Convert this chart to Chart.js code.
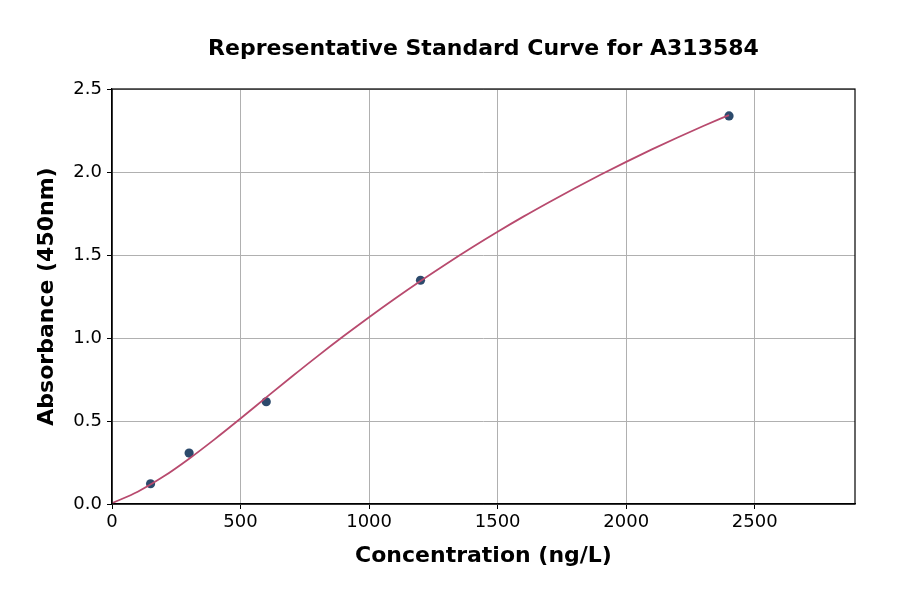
<!DOCTYPE html>
<html>
<head>
<meta charset="utf-8">
<title>Representative Standard Curve for A313584</title>
<script src="https://cdn.jsdelivr.net/npm/chart.js@4"></script>
<style>
    body { margin: 0; background: #fff; }
    canvas { display: block; }
</style>
</head>
<body>
<canvas id="curveChart" width="900" height="594"></canvas>
<script>
// Standard points (ng/L vs OD at 450nm)
const standardConc = [150, 300, 600, 1200, 2400];
const standardOD = [0.122, 0.307, 0.616, 1.348, 2.338];

// Fitted curve at every 100 ng/L
const curveConc = [0, 100, 200, 300, 400, 500, 600, 700, 800, 900, 1000, 1100, 1200,
    1300, 1400, 1500, 1600, 1700, 1800, 1900, 2000, 2100, 2200, 2300, 2400];
const curveOD = [0.005, 0.074, 0.165, 0.273, 0.391, 0.515, 0.642, 0.768, 0.891, 1.010, 1.125, 1.236, 1.343,
    1.446, 1.545, 1.640, 1.731, 1.818, 1.902, 1.983, 2.061, 2.136, 2.208, 2.277, 2.343];

// Axis ticks
const xTicks = [0, 500, 1000, 1500, 2000, 2500];
const yTicks = [0, 0.5, 1.0, 1.5, 2.0, 2.5];

const FONT = "'DejaVu Sans', sans-serif";

// matplotlib style box around the plot area
const frame = {
    id: 'frame',
    afterDatasetsDraw(chart) {
        const a = chart.chartArea;
        const ctx = chart.ctx;
        ctx.save();
        ctx.strokeStyle = '#000';
        ctx.lineWidth = 1.2;
        ctx.strokeRect(a.left, a.top, a.right - a.left, a.bottom - a.top);
        ctx.restore();
    }
};

new Chart(document.getElementById('curveChart'), {
    type: 'scatter',
    data: {
        datasets: [
            {
                label: 'Fit',
                data: curveConc.map((c, i) => ({ x: c, y: curveOD[i] })),
                showLine: true,
                borderColor: '#b84a6e',
                borderWidth: 1.8,
                pointRadius: 0,
                cubicInterpolationMode: 'monotone'
            },
            {
                label: 'Standards',
                data: standardConc.map((c, i) => ({ x: c, y: standardOD[i] })),
                backgroundColor: '#2c4a6c',
                borderColor: '#2c4a6c',
                pointRadius: 4.6,
                borderWidth: 0
            }
        ]
    },
    options: {
        responsive: false,
        animation: false,
        devicePixelRatio: 1,
        layout: {
            padding: { left: 0, right: 45, top: 0, bottom: 0 }
        },
        plugins: {
            legend: { display: false },
            tooltip: { enabled: false },
            title: {
                display: true,
                fullSize: false,
                text: 'Representative Standard Curve for A313584',
                color: '#000',
                font: { family: FONT, size: 22, weight: 'bold' },
                padding: { top: 36, bottom: 26.6 }
            }
        },
        scales: {
            x: {
                type: 'linear',
                min: 0,
                max: 2890,
                afterFit: s => { s.height = 90; },
                afterBuildTicks: s => { s.ticks = xTicks.map(v => ({ value: v })); },
                grid: { color: '#b0b0b0', lineWidth: 1, tickLength: 5, tickColor: '#000' },
                border: { color: '#000', width: 1.2 },
                ticks: {
                    color: '#000',
                    padding: 3,
                    maxRotation: 0,
                    font: { family: FONT, size: 18 },
                    callback: v => String(v)
                },
                title: {
                    display: true,
                    text: 'Concentration (ng/L)',
                    color: '#000',
                    font: { family: FONT, size: 22, weight: 'bold' },
                    padding: { top: 0, bottom: 25 }
                }
            },
            y: {
                type: 'linear',
                min: 0,
                max: 2.5,
                afterFit: s => { s.width = 112; },
                afterBuildTicks: s => { s.ticks = yTicks.map(v => ({ value: v })); },
                grid: { color: '#b0b0b0', lineWidth: 1, tickLength: 5, tickColor: '#000' },
                border: { color: '#000', width: 1.2 },
                ticks: {
                    color: '#000',
                    padding: 5,
                    font: { family: FONT, size: 18 },
                    callback: v => v.toFixed(1)
                },
                title: {
                    display: true,
                    text: 'Absorbance (450nm)',
                    color: '#000',
                    font: { family: FONT, size: 22, weight: 'bold' },
                    padding: { top: 34, bottom: 0 }
                }
            }
        }
    },
    plugins: [frame]
});
</script>
</body>
</html>
